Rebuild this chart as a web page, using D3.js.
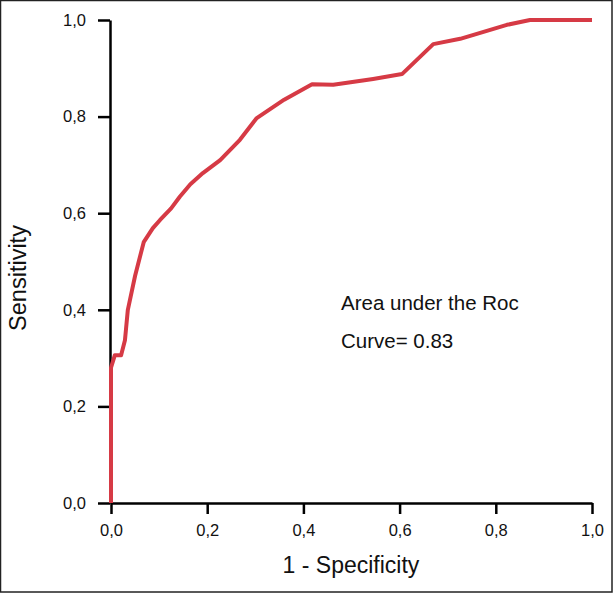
<!doctype html>
<head>
  <meta charset="utf-8">
  <script src="https://cdnjs.cloudflare.com/ajax/libs/d3/7.8.2/d3.min.js"></script>
</head>
<style>
    body { margin: 0; background: white; }
    svg text { font-family: Arial, "Liberation Sans", sans-serif; fill: #111; }
</style>
<body>
    <div id="chart"></div>
    <script>
        // Puntos de la curva ROC (1 - especificidad, sensibilidad)
        const fpr = [0, 0, 0.008, 0.021, 0.029, 0.031, 0.035, 0.05, 0.068, 0.087, 0.102, 0.125, 0.143, 0.165, 0.191, 0.227, 0.268, 0.303, 0.36, 0.418, 0.462, 0.545, 0.605, 0.67, 0.726, 0.823, 0.871, 1.0];
        const tpr = [0, 0.28, 0.306, 0.306, 0.337, 0.358, 0.40, 0.47, 0.54, 0.569, 0.586, 0.61, 0.634, 0.66, 0.683, 0.71, 0.752, 0.797, 0.835, 0.867, 0.866, 0.878, 0.888, 0.95, 0.961, 0.99, 1.0, 1.0];
        const ticks = [0, 0.2, 0.4, 0.6, 0.8, 1.0];
        const annotation = ["Area under the Roc", "Curve= 0.83"];

        const width = 613, height = 593;
        const svg = d3.select('#chart').append('svg')
            .attr('width', width)
            .attr('height', height);

        // Marco
        svg.append('rect')
            .attr('x', 0.5).attr('y', 0.5)
            .attr('width', width - 1.5).attr('height', height - 1.5)
            .attr('fill', 'none')
            .attr('stroke', '#222')
            .attr('stroke-width', 1.5);

        const x = d3.scaleLinear().domain([0, 1]).range([111, 592]);
        const y = d3.scaleLinear().domain([0, 1]).range([503, 20]);
        const fmt = (d) => d3.format('.1f')(d).replace('.', ',');

        const xAxis = svg.append('g')
            .attr('transform', `translate(0,${y(0)})`)
            .call(d3.axisBottom(x).tickValues(ticks).tickFormat(fmt).tickSize(11).tickSizeOuter(0).tickPadding(10));
        const yAxis = svg.append('g')
            .attr('transform', `translate(${x(0) - 1},0)`)
            .call(d3.axisLeft(y).tickValues(ticks).tickFormat(fmt).tickSize(12).tickSizeOuter(0).tickPadding(12));

        [xAxis, yAxis].forEach((g) => {
            g.selectAll('path, line').attr('stroke', '#000').attr('stroke-width', 2.5);
            g.selectAll('text').attr('font-size', 16.5).attr('font-family', 'Arial, "Liberation Sans", sans-serif').attr('fill', '#111');
        });

        // Títulos de los ejes
        svg.append('text')
            .attr('x', 351).attr('y', 573)
            .attr('text-anchor', 'middle')
            .attr('font-size', 23)
            .text('1 - Specificity');
        svg.append('text')
            .attr('transform', 'translate(26,278) rotate(-90)')
            .attr('text-anchor', 'middle')
            .attr('font-size', 23.5)
            .text('Sensitivity');

        // Curva ROC
        const points = fpr.map((d, i) => [d, tpr[i]]);
        svg.append('path')
            .datum(points)
            .attr('fill', 'none')
            .attr('stroke', '#d63a45')
            .attr('stroke-width', 4)
            .attr('stroke-linejoin', 'round')
            .attr('d', d3.line().x((d) => x(d[0])).y((d) => y(d[1])));

        // Anotación
        svg.selectAll('.note')
            .data(annotation)
            .enter()
            .append('text')
            .attr('class', 'note')
            .attr('x', 341)
            .attr('y', (d, i) => 310 + i * 38)
            .attr('font-size', 20.5)
            .text((d) => d);
    </script>
</body>
